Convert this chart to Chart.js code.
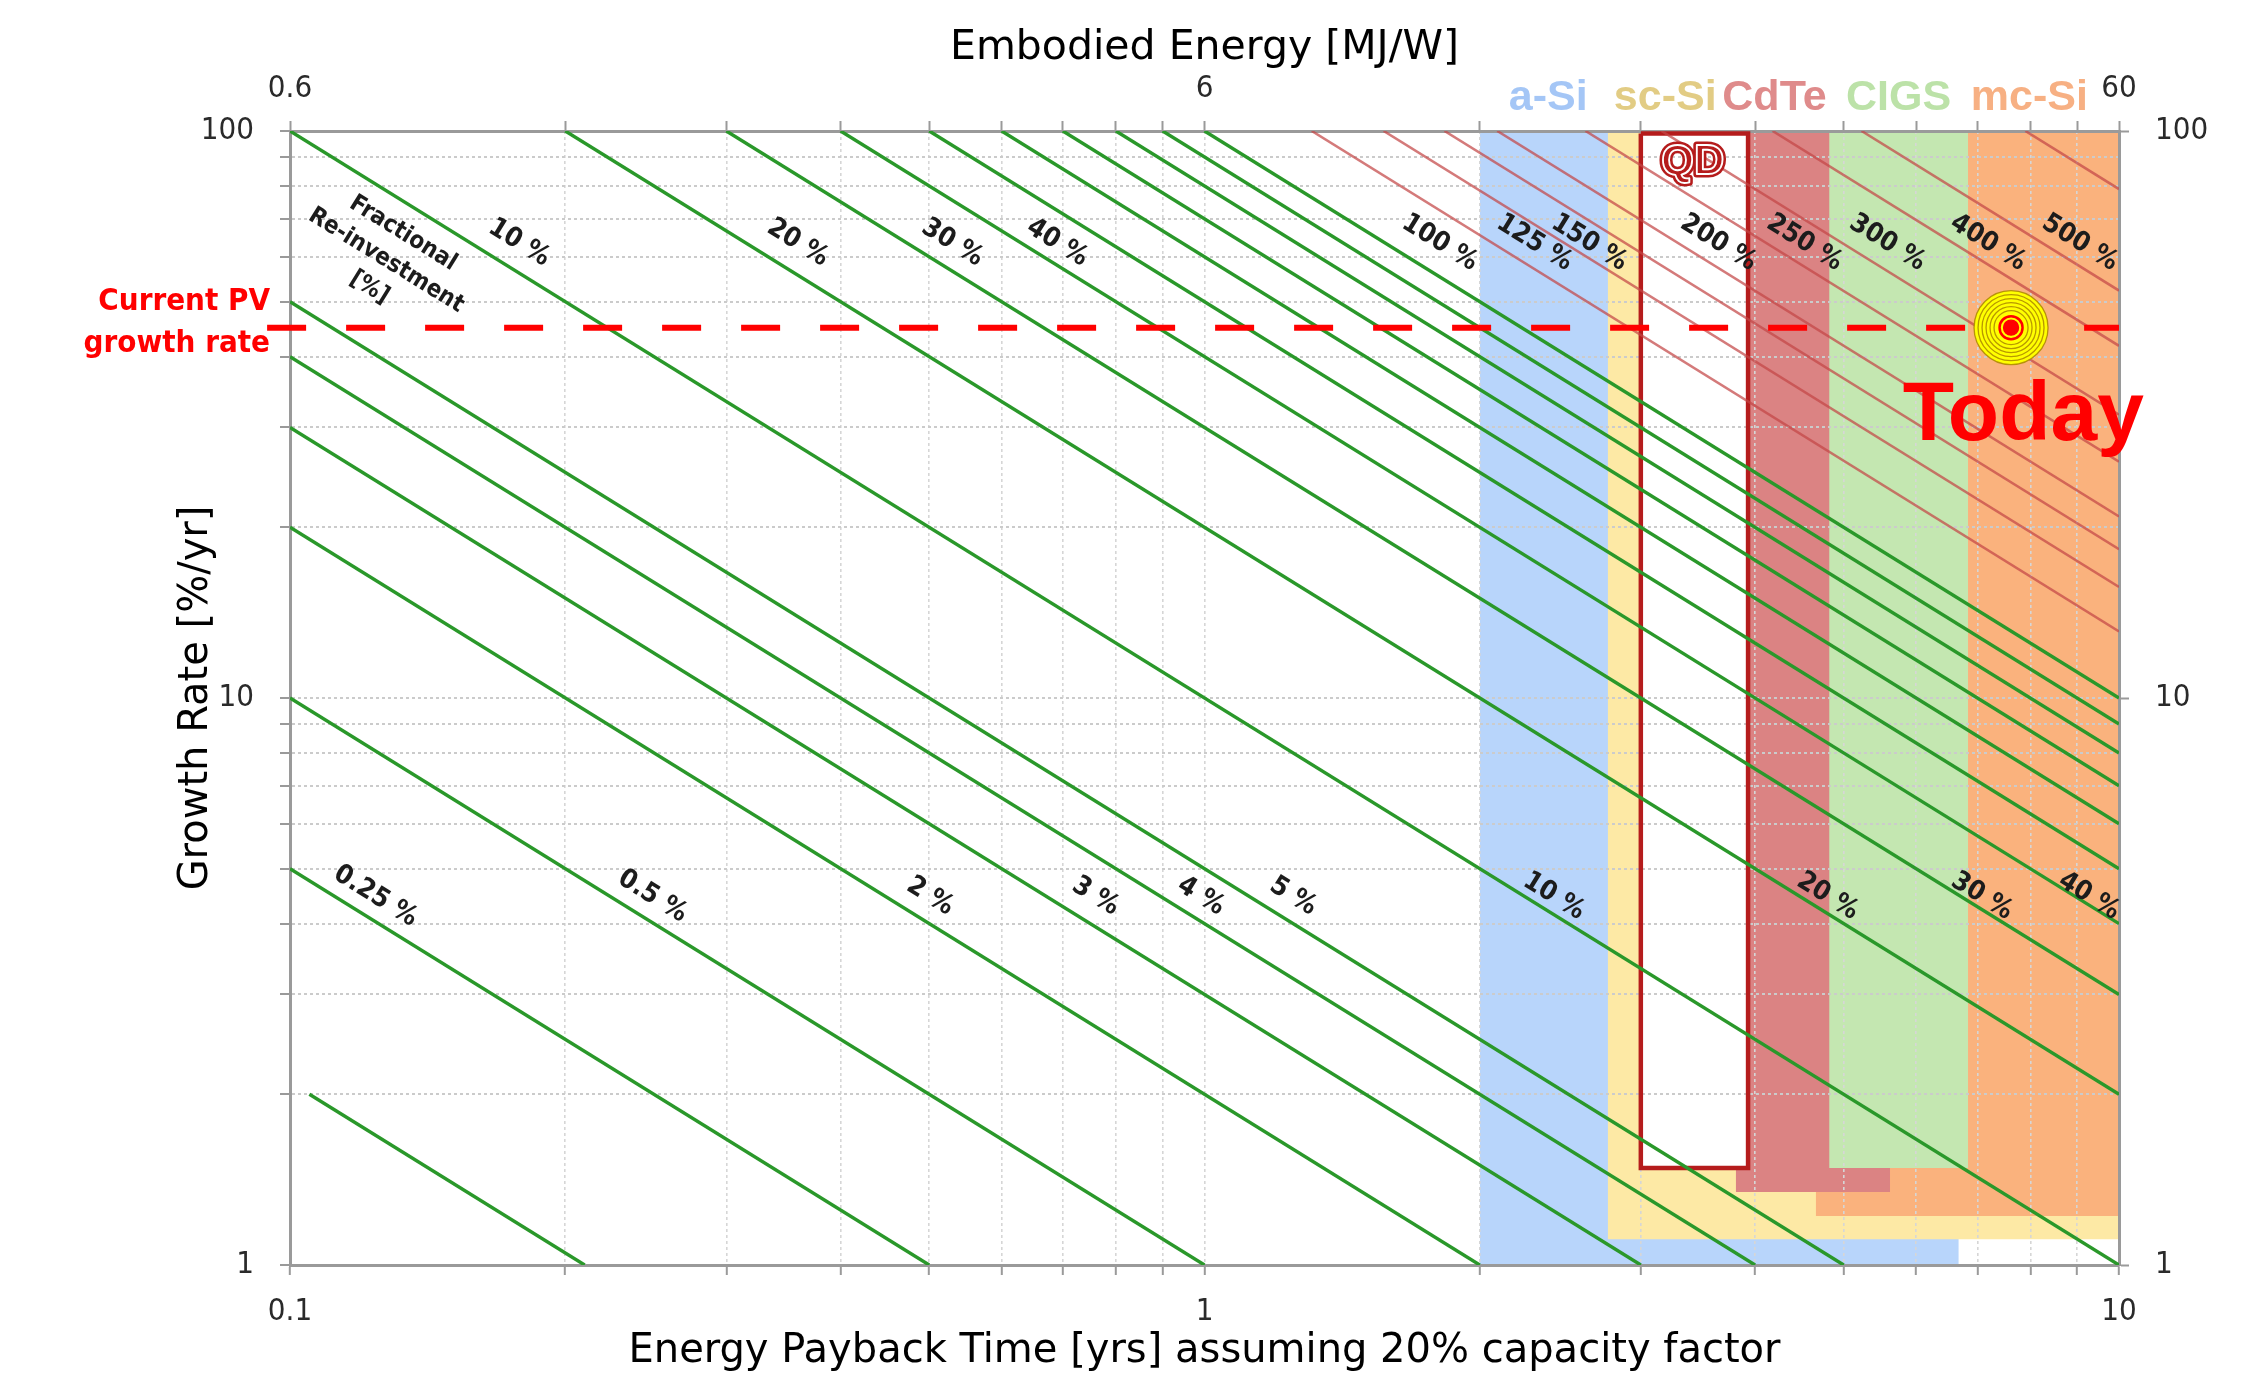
<!DOCTYPE html>
<html>
<head>
<meta charset="utf-8">
<title>PV growth rate vs energy payback time</title>
<script src="https://cdn.jsdelivr.net/npm/chart.js@4.4.1/dist/chart.umd.min.js"></script>
<style>
    html, body { margin: 0; padding: 0; background: #fff; }
    #wrap { width: 2260px; height: 1382px; }
</style>
</head>
<body>
<div id="wrap"><canvas id="chart" width="2260" height="1382"></canvas></div>
<script>
'use strict';

/*
---- data ----
*/

// axis ranges and labelled ticks
const epbtTicks = [0.1, 1, 10];          // Energy payback time [yrs]
const growthTicks = [1, 10, 100];        // growth rate [%/yr]
const embodiedTicks = [0.6, 6, 60];      // embodied energy [MJ/W], top axis

// growth x EPBT along each re-investment line
const greenProducts = [0.5, 1, 2, 3, 4, 5, 10, 20, 30, 40, 50, 60, 70, 80, 90, 100];
const stubProduct = 0.21;   // short line at bottom left, starts at 2 %/yr
const stubTopGrowth = 2;
const redProducts = [131, 157, 183, 209, 261, 316, 418, 523, 790];

// technology blocks: EPBT from / to, lowest growth rate
const techNames = ['a-Si', 'sc-Si', 'mc-Si', 'CdTe', 'CIGS'];
const techEpbtFrom = [2.0, 2.76, 4.66, 3.81, 4.82];
const techEpbtTo = [6.68, 10, 10, 5.62, 6.84];
const techGrowthFrom = [1.0, 1.11, 1.22, 1.345, 1.483];

const qdEpbt = [3.0, 3.93];
const qdGrowth = [1.483, 99];

const currentGrowth = 45;   // current PV growth rate
const todayEpbt = 7.62;

// texts on the lines
const upperLabels = ['10 %', '20 %', '30 %', '40 %', '100 %', '125 %', '150 %', '200 %', '250 %', '300 %', '400 %', '500 %'];
const lowerLabels = ['0.25 %', '0.5 %', '2 %', '3 %', '4 %', '5 %', '10 %', '20 %', '30 %', '40 %'];

/*
---- where texts sit (data coords) and styles ----
*/
const upperLabelAt = { epbt: [0.178, 0.359, 0.530, 0.690, 1.808, 2.295, 2.634, 3.646, 4.53, 5.58, 7.19, 9.06], growth: 63.5 };
const lowerLabelAt = { epbt: [0.124, 0.249, 0.501, 0.760, 0.991, 1.25, 2.41, 4.80, 7.08, 9.27], growth: 4.47 };
const techLabelEpbt = [2.376, 3.19, 7.98, 4.20, 5.74];
const techFill = ['#b8d5fb', '#fde9a5', '#fab27d', '#db8383', '#c4e7b1'];
const techText = ['#a4c6f6', '#e2cc84', '#f7b083', '#df8b8b', '#bce2a8'];
const todayRings = [37, 33, 29, 25, 21, 17, 11.5, 7.5];
const dashStartEpbt = 0.0944;   // dashed line pokes out left of the axis

const GRAY = '#9a9a9a';
const TICK_FONT = { family: '"DejaVu Sans Condensed", "DejaVu Sans", sans-serif', size: 31 };
const TITLE_FAMILY = '"DejaVu Sans", sans-serif';

function productLine(k, topGrowth) {
    const x0 = Math.max(epbtTicks[0], k / topGrowth);
    const x1 = Math.min(epbtTicks[2], k / growthTicks[0]);
    return [{ x: x0, y: k / x0 }, { x: x1, y: k / x1 }];
}

function decadeTicks(major) {
    const out = [];
    for (let i = 0; i < major.length - 1; i++)
        for (let k = 1; k <= 9; k++) out.push(major[i] * k);
    out.push(major[major.length - 1]);
    return out.map(v => ({ value: v }));
}

function isMajor(major, value) {
    return major.find(t => Math.abs(value - t) < t * 1e-6);
}

function majorOnly(major) {
    return value => {
        const m = isMajor(major, value);
        return m === undefined ? '' : String(m);
    };
}

/*
---- datasets ----
*/
const datasets = [];

techNames.forEach((name, i) => {
    datasets.push({
        label: name,
        data: [{ x: techEpbtFrom[i], y: growthTicks[2] }, { x: techEpbtTo[i], y: growthTicks[2] }],
        showLine: true, borderWidth: 0, borderColor: 'transparent', pointRadius: 0,
        backgroundColor: techFill[i],
        fill: { value: techGrowthFrom[i] },
        order: 30 - i
    });
});

// QD: white box with dark red frame
datasets.push({
    label: 'QD fill',
    data: [{ x: qdEpbt[0], y: qdGrowth[1] }, { x: qdEpbt[1], y: qdGrowth[1] }],
    showLine: true, borderWidth: 0, borderColor: 'transparent', pointRadius: 0,
    backgroundColor: '#ffffff',
    fill: { value: qdGrowth[0] },
    order: 20
});
datasets.push({
    label: 'QD',
    data: [
        { x: qdEpbt[0], y: qdGrowth[1] }, { x: qdEpbt[0], y: qdGrowth[0] },
        { x: qdEpbt[1], y: qdGrowth[0] }, { x: qdEpbt[1], y: qdGrowth[1] },
        { x: qdEpbt[0], y: qdGrowth[1] }
    ],
    showLine: true, borderWidth: 4.5, borderColor: '#b51c1c', pointRadius: 0, fill: false,
    order: 8
});

redProducts.forEach(k => datasets.push({
    label: k + ' %',
    data: productLine(k, growthTicks[2]),
    showLine: true, borderWidth: 2.6, borderColor: 'rgba(195, 70, 70, 0.72)', pointRadius: 0,
    order: 6
}));

greenProducts.forEach(k => datasets.push({
    label: k + ' %',
    data: productLine(k, growthTicks[2]),
    showLine: true, borderWidth: 3.4, borderColor: '#2a982a', pointRadius: 0,
    order: 5
}));
datasets.push({
    label: 'stub',
    data: productLine(stubProduct, stubTopGrowth),
    showLine: true, borderWidth: 3.4, borderColor: '#2a982a', pointRadius: 0,
    order: 5
});

datasets.push({
    label: 'Current PV growth rate',
    data: [{ x: dashStartEpbt, y: currentGrowth }, { x: epbtTicks[2], y: currentGrowth }],
    showLine: true, borderWidth: 6, borderColor: '#ff0000', borderDash: [39, 40],
    pointRadius: 0, clip: { left: 40, top: 0, right: 0, bottom: 0 },
    order: 3
});

datasets.push({
    label: 'Today',
    data: todayRings.map(() => ({ x: todayEpbt, y: currentGrowth })),
    showLine: false,
    pointRadius: todayRings,
    pointBackgroundColor: todayRings.map((r, i) => i === todayRings.length - 1 ? '#ff0000' : '#ffff00'),
    pointBorderColor: todayRings.map((r, i) => i >= todayRings.length - 2 ? '#ff0000' : 'rgba(175, 140, 0, 0.9)'),
    pointBorderWidth: todayRings.map((r, i) => i === todayRings.length - 2 ? 2.5 : 1.3),
    order: 1
});

/*
---- texts drawn on top ----
*/
function drawRotated(ctx, lines, x, y, angle, lineHeight) {
    ctx.save();
    ctx.translate(x, y);
    ctx.rotate(angle);
    const off = (lines.length - 1) * lineHeight / 2;
    lines.forEach((t, i) => ctx.fillText(t, 0, i * lineHeight - off));
    ctx.restore();
}

const textLayer = {
    id: 'textLayer',
    afterDraw(chart) {
        const { ctx, chartArea } = chart;
        const px = v => chart.scales.x.getPixelForValue(v);
        const py = v => chart.scales.y.getPixelForValue(v);
        const angle = Math.atan2(py(1) - py(10), px(10) - px(1));

        ctx.save();
        ctx.textAlign = 'center';
        ctx.textBaseline = 'middle';

        // percentage labels along the lines
        ctx.fillStyle = '#1c1c1c';
        ctx.font = 'bold 27px "DejaVu Sans Condensed", "DejaVu Sans", sans-serif';
        upperLabels.forEach((t, i) => drawRotated(ctx, [t], px(upperLabelAt.epbt[i]), py(upperLabelAt.growth), angle, 0));
        lowerLabels.forEach((t, i) => drawRotated(ctx, [t], px(lowerLabelAt.epbt[i]), py(lowerLabelAt.growth), angle, 0));

        ctx.font = 'bold 24px "DejaVu Sans Condensed", "DejaVu Sans", sans-serif';
        drawRotated(ctx, ['Fractional', 'Re-investment', '[%]'], px(0.1274), py(59.1), angle, 32);

        // technology names above the plot
        ctx.font = 'bold 43px "Liberation Sans", Arial, sans-serif';
        techNames.forEach((name, i) => {
            ctx.fillStyle = techText[i];
            ctx.fillText(name, px(techLabelEpbt[i]), chartArea.top - 33);
        });

        // QD, outlined letters
        ctx.font = 'bold 42px "Liberation Sans", Arial, sans-serif';
        ctx.lineJoin = 'round';
        ctx.fillStyle = '#b51c1c';
        ctx.strokeStyle = '#b51c1c';
        ctx.lineWidth = 7;
        ctx.strokeText('QD', px(3.42), py(88));
        ctx.fillText('QD', px(3.42), py(88));
        ctx.strokeStyle = '#ffffff';
        ctx.lineWidth = 1.8;
        ctx.strokeText('QD', px(3.42), py(88));

        // current growth rate, left of the axis
        ctx.fillStyle = '#ff0000';
        ctx.textAlign = 'right';
        ctx.font = 'bold 31px "DejaVu Sans Condensed", "DejaVu Sans", sans-serif';
        ctx.fillText('Current PV', chartArea.left - 20, py(currentGrowth) - 26);
        ctx.fillText('growth rate', chartArea.left - 20, py(currentGrowth) + 16);

        // Today
        ctx.textAlign = 'center';
        ctx.textBaseline = 'alphabetic';
        ctx.font = 'bold 84px "Liberation Sans", Arial, sans-serif';
        ctx.fillText('Today', px(7.86), py(28.5));

        ctx.restore();
    }
};

/*
---- axes ----
*/
function logAxis(position, major, size, tickPadding, extra) {
    const horizontal = position === 'top' || position === 'bottom';
    return Object.assign({
        type: 'logarithmic',
        position: position,
        min: major[0],
        max: major[major.length - 1],
        afterBuildTicks: scale => { scale.ticks = decadeTicks(major); },
        afterFit: scale => { if (horizontal) scale.height = size; else scale.width = size; },
        ticks: {
            autoSkip: false, maxRotation: 0, minRotation: 0,
            padding: tickPadding, color: '#2a2a2a', font: TICK_FONT,
            callback: majorOnly(major)
        },
        grid: { drawOnChartArea: false, tickLength: 10, tickWidth: 2, tickColor: GRAY },
        border: { color: GRAY, width: 3 }
    }, extra);
}

const chart = new Chart(document.getElementById('chart'), {
    type: 'scatter',
    data: { datasets: datasets },
    plugins: [textLayer],
    options: {
        responsive: false,
        devicePixelRatio: 1,
        animation: false,
        events: [],
        elements: { line: { tension: 0 } },
        layout: { padding: 0 },
        plugins: {
            legend: { display: false },
            tooltip: { enabled: false },
            filler: { drawTime: 'beforeDraw' }   // grid shows over the colour blocks
        },
        scales: {
            x: logAxis('bottom', epbtTicks, 117, 18, {
                grid: { drawOnChartArea: true, color: '#d6d6d6', lineWidth: 1.6, tickLength: 10, tickWidth: 2, tickColor: GRAY },
                border: { color: GRAY, width: 3, dash: [3, 3] },
                title: {
                    display: true, text: 'Energy Payback Time [yrs] assuming 20% capacity factor',
                    color: '#000', font: { family: TITLE_FAMILY, size: 40 }, padding: { top: 0, bottom: 6 }
                }
            }),
            x2: logAxis('top', embodiedTicks, 131, 13, {
                title: {
                    display: true, text: 'Embodied Energy [MJ/W]',
                    color: '#000', font: { family: TITLE_FAMILY, size: 41 }, padding: { top: 24, bottom: 0 }
                }
            }),
            y: logAxis('left', growthTicks, 290, 26, {
                grid: { drawOnChartArea: true, color: '#cbcbcb', lineWidth: 2, tickLength: 10, tickWidth: 2, tickColor: GRAY },
                border: { color: GRAY, width: 3, dash: [3, 3] },
                title: {
                    display: true, text: 'Growth Rate [%/yr]',
                    color: '#000', font: { family: TITLE_FAMILY, size: 40 }, padding: { top: 173, bottom: 0 }
                }
            }),
            y2: logAxis('right', growthTicks, 141, 26, {
                grid: {
                    drawOnChartArea: false, tickLength: 10, tickWidth: 2,
                    tickColor: c => isMajor(growthTicks, c.tick.value) === undefined ? 'rgba(0,0,0,0)' : GRAY
                }
            })
        }
    }
});
</script>
</body>
</html>
